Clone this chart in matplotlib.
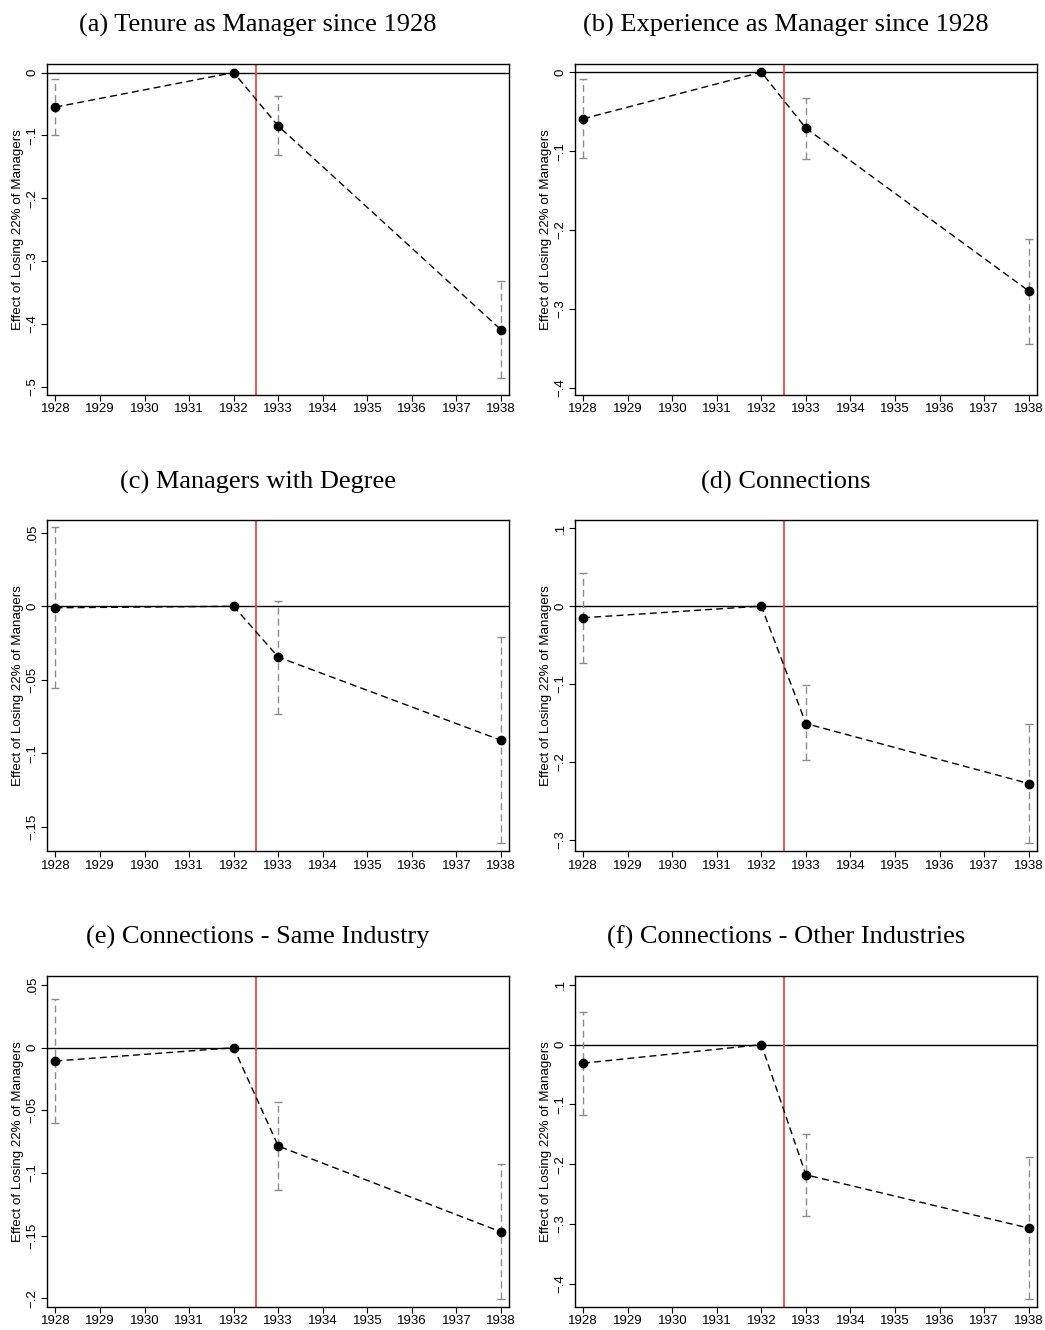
import matplotlib
matplotlib.use("Agg")
import matplotlib.pyplot as plt

years = [1928, 1932, 1933, 1938]
xticks = list(range(1928, 1939))

titles = [
    "(a) Tenure as Manager since 1928",
    "(b) Experience as Manager since 1928",
    "(c) Managers with Degree",
    "(d) Connections",
    "(e) Connections - Same Industry",
    "(f) Connections - Other Industries",
]

# point estimates and confidence bounds, one list per panel
coef_a = [-0.055, 0.0, -0.085, -0.409]
lo_a = [-0.100, 0.0, -0.132, -0.486]
hi_a = [-0.010, 0.0, -0.038, -0.332]

coef_b = [-0.059, 0.0, -0.071, -0.277]
lo_b = [-0.109, 0.0, -0.110, -0.344]
hi_b = [-0.009, 0.0, -0.033, -0.211]

coef_c = [-0.001, 0.0, -0.0345, -0.091]
lo_c = [-0.0557, 0.0, -0.073, -0.161]
hi_c = [0.0536, 0.0, 0.0039, -0.021]

coef_d = [-0.015, 0.0, -0.151, -0.228]
lo_d = [-0.073, 0.0, -0.198, -0.305]
hi_d = [0.043, 0.0, -0.102, -0.151]

coef_e = [-0.0106, 0.0, -0.0785, -0.147]
lo_e = [-0.0598, 0.0, -0.1138, -0.201]
hi_e = [0.0386, 0.0, -0.0431, -0.0926]

coef_f = [-0.031, 0.0, -0.2176, -0.3066]
lo_f = [-0.117, 0.0, -0.2871, -0.4257]
hi_f = [0.054, 0.0, -0.1486, -0.187]

yticks_a = [0, -0.1, -0.2, -0.3, -0.4, -0.5]
yticks_b = [0, -0.1, -0.2, -0.3, -0.4]
yticks_c = [0.05, 0, -0.05, -0.1, -0.15]
yticks_d = [0.1, 0, -0.1, -0.2, -0.3]
yticks_e = [0.05, 0, -0.05, -0.1, -0.15, -0.2]
yticks_f = [0.1, 0, -0.1, -0.2, -0.3, -0.4]

ylims = [(-0.513, 0.0138), (-0.409, 0.0106), (-0.1664, 0.0586),
         (-0.315, 0.1106), (-0.207, 0.0574), (-0.4385, 0.115)]

panels = [
    (coef_a, lo_a, hi_a, yticks_a),
    (coef_b, lo_b, hi_b, yticks_b),
    (coef_c, lo_c, hi_c, yticks_c),
    (coef_d, lo_d, hi_d, yticks_d),
    (coef_e, lo_e, hi_e, yticks_e),
    (coef_f, lo_f, hi_f, yticks_f),
]


def stata_label(v):
    # Stata style: 0, .05, -.1 with a real minus sign
    if v == 0:
        return "0"
    s = ("%g" % abs(v)).lstrip("0")
    return ("\u2212" if v < 0 else "") + s


plt.rcParams['font.family'] = ['Liberation Sans', 'DejaVu Sans']

fig = plt.figure(figsize=(10.45, 13.3), dpi=100)

lefts = [0.045, 0.550]
bottoms = [0.703, 0.360, 0.0173]
w, h = 0.442, 0.249

for i, (coef, lo, hi, yt) in enumerate(panels):
    ax = fig.add_axes([lefts[i % 2], bottoms[i // 2], w, h])
    ax.axhline(0, color="black", lw=1.0, zorder=1)
    ax.axvline(1932.5, color="#f0484a", lw=1.3, zorder=1)

    yerr = [[c - l for c, l in zip(coef, lo)], [u - c for c, u in zip(coef, hi)]]
    eb = ax.errorbar(years, coef, yerr=yerr, fmt="none", ecolor="#8c8c8c",
                     elinewidth=1.0, capsize=3, capthick=1.0, zorder=2)
    eb[2][0].set_linestyle((0, (5, 3)))

    ax.plot(years, coef, color="black", lw=1.0, ls=(0, (5, 3)), zorder=3)
    ax.plot(years, coef, "o", color="black", ms=6, zorder=4)

    ax.set_xlim(1927.81, 1938.18)
    ax.set_ylim(*ylims[i])
    ax.set_xticks(xticks)
    ax.set_xticklabels([str(x) for x in xticks], fontsize=9.5)
    ax.set_yticks(yt)
    ax.set_yticklabels([stata_label(v) for v in yt], fontsize=9.5,
                       rotation=90, va="center")
    ax.tick_params(direction="out", length=4, width=0.8, pad=2)
    ax.set_ylabel("Effect of Losing 22% of Managers", fontsize=9.6, labelpad=2)
    for sp in ax.spines.values():
        sp.set_linewidth(1.0)
    ax.set_title(titles[i], fontsize=19, family="Liberation Serif", pad=23,
                 x=0.457)

fig.savefig("out.png", dpi=100)
